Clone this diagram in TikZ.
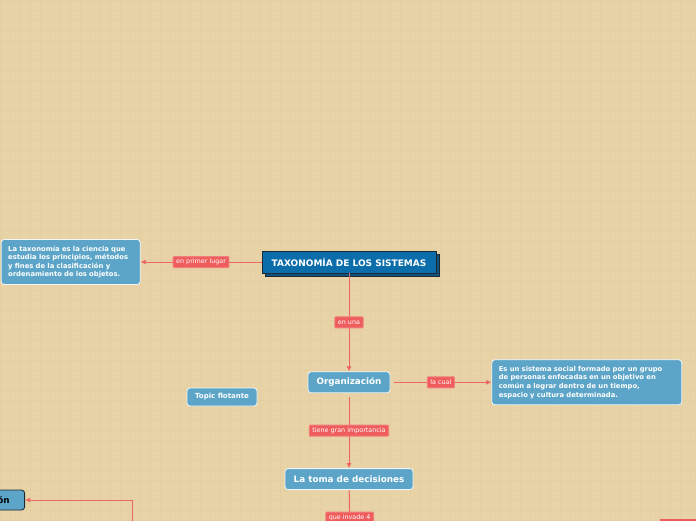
\documentclass[tikz,border=0pt]{standalone}
\usepackage{fontspec}
\setmainfont{DejaVu Sans}
\usepackage{tikz}
\usetikzlibrary{positioning,arrows.meta,shadows}
\usepackage{xcolor}
\definecolor{paper}{HTML}{E8D3A7}
\definecolor{paperline}{HTML}{E4CEA2}
\definecolor{mainblue}{HTML}{0B6EAA}
\definecolor{darkedge}{HTML}{1B2A36}
\definecolor{subblue}{HTML}{5CA5C8}
\definecolor{relred}{HTML}{EF5C5C}
\definecolor{linered}{HTML}{EE6565}

\begin{document}
\begin{tikzpicture}[
x=1pt, y=-1pt, >={Latex[length=5pt,width=5pt]},
central/.style={draw=darkedge, line width=0.8pt, fill=mainblue, text=white, font=\fontsize{9}{10}\selectfont\bfseries, minimum width=174pt, minimum height=22pt, inner sep=0pt,
  general shadow={shadow xshift=3pt, shadow yshift=-3pt, fill=mainblue!60!darkedge, draw=darkedge, line width=0.8pt}},
subtopic/.style={draw=white!90!subblue, line width=0.8pt, rounded corners=3pt, fill=subblue, text=white, font=\fontsize{8.8}{10}\selectfont\bfseries, inner sep=0pt},
textbox/.style={subtopic, font=\fontsize{6.8}{8.6}\selectfont\bfseries, align=left, inner xsep=7pt, inner ysep=0pt},
rel/.style={fill=relred, draw=relred!80!white, text=white, font=\fontsize{6.4}{7}\selectfont, inner xsep=3pt, inner ysep=0pt, minimum height=11pt, rounded corners=0.8pt},
link/.style={draw=linered, line width=1pt}
]
\useasboundingbox (0,0) rectangle (696,520);
\fill[paper] (0,0) rectangle (696,520);
\draw[paperline, line width=0.5pt] (0,0) grid[step=10pt] (696,520);

\node[central] (taxo) at (349,262) {TAXONOMÍA DE LOS SISTEMAS};
\node[textbox, text width=125pt, minimum height=45pt, left=121pt of taxo] (defin) {La taxonomía es la ciencia que\\estudia los principios, métodos\\y fines de la clasificación y\\ordenamiento de los objetos.};
\node[subtopic, minimum width=82pt, minimum height=21pt, below=98pt of taxo] (org) {Organización};
\node[textbox, text width=176pt, minimum height=45pt, right=101pt of org] (sist) {Es un sistema social formado por un grupo\\de personas enfocadas en un objetivo en\\común a lograr dentro de un tiempo,\\espacio y cultura determinada.};
\node[subtopic, font=\fontsize{7}{8}\selectfont\bfseries, minimum width=70pt, minimum height=18pt] (flot) at (222,397) {Topic flotante};
\node[subtopic, minimum width=128pt, minimum height=21pt, below=75pt of org] (toma) {La toma de decisiones};
\node[subtopic, draw=darkedge, text=black, anchor=east, minimum width=70pt, minimum height=20pt, align=right, text width=40pt] (cion) at (25,500) {ción};
\coordinate (downend) at (350,540);
\coordinate (leftend) at (132,540);

\draw[link, ->] (taxo) -- node[rel] {en primer lugar} (defin);
\draw[link, ->] (taxo) -- node[rel] {en una} (org);
\draw[link, ->, shorten <=4pt] (org) -- node[rel] {la cual} (sist);
\draw[link, ->, shorten <=4pt] (org) -- node[rel] {tiene gran importancia} (toma);
\draw[link] (toma) -- node[rel, pos=0.55] {que invade 4} (downend);
\draw[link, ->] (leftend) |- (cion);
\fill[relred] (660,519) rectangle (700,525);
\end{tikzpicture}
\end{document}
